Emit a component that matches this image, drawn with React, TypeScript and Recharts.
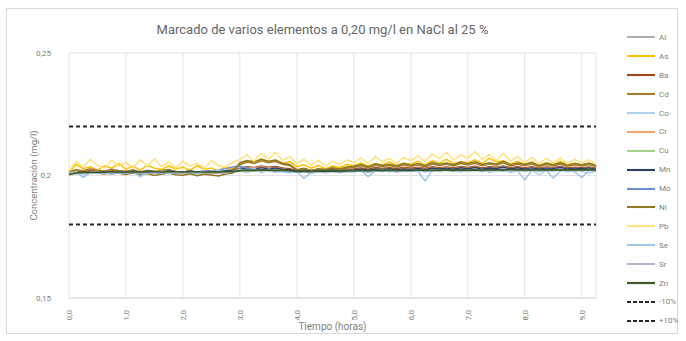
import { LineChart, Line, XAxis, YAxis, CartesianGrid, Label } from 'recharts'

// tiempo en horas
const hours = [
  0, 0.125, 0.25, 0.375, 0.5, 0.625, 0.75, 0.875,
  1, 1.125, 1.25, 1.375, 1.5, 1.625, 1.75, 1.875,
  2, 2.125, 2.25, 2.375, 2.5, 2.625, 2.75, 2.875,
  3, 3.125, 3.25, 3.375, 3.5, 3.625, 3.75, 3.875,
  4, 4.125, 4.25, 4.375, 4.5, 4.625, 4.75, 4.875,
  5, 5.125, 5.25, 5.375, 5.5, 5.625, 5.75, 5.875,
  6, 6.125, 6.25, 6.375, 6.5, 6.625, 6.75, 6.875,
  7, 7.125, 7.25, 7.375, 7.5, 7.625, 7.75, 7.875,
  8, 8.125, 8.25, 8.375, 8.5, 8.625, 8.75, 8.875,
  9, 9.125, 9.25,
]

const al = [
  .2003, .2009, .2007, .2011, .2008, .2010, .2006, .2011,
  .2009, .2012, .2007, .2011, .2010, .2008, .2012, .2010,
  .2009, .2012, .2008, .2011, .2010, .2009, .2013, .2014,
  .2019, .2023, .2020, .2025, .2021, .2024, .2019, .2017,
  .2013, .2016, .2012, .2015, .2014, .2017, .2013, .2016,
  .2016, .2019, .2015, .2020, .2017, .2021, .2016, .2020,
  .2018, .2021, .2017, .2022, .2019, .2023, .2018, .2022,
  .2019, .2023, .2018, .2022, .2020, .2024, .2019, .2022,
  .2019, .2022, .2018, .2021, .2020, .2023, .2019, .2021,
  .2019, .2022, .2018,
]
const as = [
  .2012, .2045, .2028, .2036, .2022, .2040, .2030, .2048,
  .2026, .2038, .2021, .2042, .2030, .2025, .2039, .2027,
  .2034, .2022, .2040, .2026, .2031, .2019, .2036, .2028,
  .2048, .2060, .2052, .2068, .2055, .2062, .2049, .2057,
  .2036, .2044, .2030, .2041, .2028, .2039, .2033, .2045,
  .2040, .2052, .2038, .2049, .2043, .2055, .2041, .2050,
  .2046, .2058, .2043, .2061, .2050, .2066, .2048, .2057,
  .2052, .2064, .2049, .2070, .2055, .2060, .2047, .2058,
  .2045, .2056, .2040, .2052, .2044, .2058, .2042, .2050,
  .2043, .2051, .2040,
]
const ba = [
  .2010, .2018, .2015, .2020, .2016, .2014, .2019, .2017,
  .2015, .2019, .2013, .2018, .2016, .2014, .2019, .2016,
  .2014, .2017, .2012, .2016, .2015, .2013, .2018, .2020,
  .2030, .2036, .2033, .2039, .2034, .2037, .2031, .2028,
  .2020, .2024, .2019, .2023, .2021, .2025, .2022, .2026,
  .2027, .2031, .2026, .2033, .2029, .2032, .2028, .2034,
  .2030, .2034, .2029, .2036, .2032, .2035, .2031, .2037,
  .2033, .2038, .2031, .2036, .2034, .2039, .2032, .2036,
  .2032, .2036, .2030, .2035, .2033, .2037, .2031, .2034,
  .2032, .2035, .2030,
]
const cd = [
  .2015, .2024, .2019, .2027, .2021, .2018, .2025, .2020,
  .2017, .2023, .2014, .2021, .2016, .2020, .2024, .2015,
  .2013, .2019, .2011, .2018, .2015, .2010, .2020, .2024,
  .2044, .2055, .2049, .2060, .2052, .2057, .2046, .2040,
  .2022, .2027, .2019, .2025, .2023, .2029, .2024, .2031,
  .2033, .2040, .2031, .2042, .2036, .2041, .2034, .2044,
  .2037, .2044, .2035, .2047, .2041, .2046, .2039, .2049,
  .2043, .2050, .2040, .2047, .2042, .2052, .2039, .2046,
  .2041, .2047, .2036, .2045, .2040, .2046, .2038, .2044,
  .2039, .2045, .2037,
]
const co = [
  .2008, .2013, .2006, .2015, .2010, .2012, .2004, .2011,
  .2012, .2007, .2014, .2009, .2013, .2005, .2011, .2014,
  .2010, .2014, .2008, .2013, .2011, .2015, .2009, .2012,
  .2018, .2012, .2020, .2015, .2019, .2013, .2017, .2014,
  .2012, .2016, .2008, .2015, .2013, .2017, .2010, .2016,
  .2014, .2019, .2012, .2018, .2016, .2020, .2013, .2019,
  .2017, .2021, .2014, .2020, .2018, .2022, .2016, .2021,
  .2018, .2022, .2015, .2021, .2019, .2023, .2012, .2020,
  .2016, .2021, .2003, .2019, .2017, .2022, .2015, .2020,
  .2018, .2008, .2019,
]
const cr = [
  .2005, .2013, .2010, .2015, .2012, .2009, .2014, .2011,
  .2010, .2014, .2008, .2013, .2011, .2009, .2015, .2012,
  .2009, .2013, .2007, .2012, .2010, .2008, .2014, .2017,
  .2028, .2034, .2030, .2036, .2031, .2033, .2027, .2024,
  .2017, .2021, .2015, .2020, .2018, .2022, .2017, .2023,
  .2022, .2027, .2021, .2029, .2025, .2028, .2023, .2030,
  .2026, .2031, .2025, .2033, .2028, .2032, .2027, .2034,
  .2029, .2035, .2027, .2032, .2030, .2036, .2028, .2033,
  .2028, .2033, .2026, .2032, .2029, .2034, .2027, .2031,
  .2028, .2032, .2026,
]
const cu = [
  .2002, .2008, .2011, .2010, .2012, .2011, .2010, .2012,
  .2011, .2012, .2010, .2013, .2012, .2011, .2013, .2012,
  .2011, .2013, .2012, .2011, .2013, .2012, .2014, .2013,
  .2017, .2019, .2018, .2020, .2019, .2018, .2019, .2017,
  .2015, .2016, .2014, .2016, .2015, .2016, .2015, .2017,
  .2018, .2019, .2017, .2019, .2018, .2019, .2018, .2020,
  .2019, .2020, .2019, .2021, .2020, .2019, .2020, .2021,
  .2020, .2021, .2019, .2021, .2020, .2021, .2022, .2020,
  .2021, .2020, .2022, .2021, .2020, .2022, .2021, .2022,
  .2021, .2022, .2020,
]
const mn = [
  .2008, .2014, .2012, .2016, .2013, .2015, .2012, .2016,
  .2014, .2017, .2013, .2016, .2015, .2013, .2017, .2015,
  .2014, .2018, .2013, .2017, .2016, .2014, .2018, .2020,
  .2026, .2030, .2027, .2032, .2028, .2031, .2026, .2024,
  .2018, .2021, .2017, .2020, .2019, .2022, .2018, .2021,
  .2022, .2026, .2021, .2027, .2024, .2028, .2023, .2027,
  .2025, .2029, .2024, .2031, .2027, .2030, .2026, .2032,
  .2028, .2033, .2027, .2031, .2029, .2034, .2027, .2032,
  .2027, .2031, .2026, .2030, .2028, .2033, .2027, .2030,
  .2028, .2031, .2026,
]
const mo = [
  .2006, .2012, .2009, .2014, .2011, .2013, .2010, .2015,
  .2012, .2016, .2010, .2015, .2013, .2011, .2016, .2014,
  .2013, .2017, .2012, .2019, .2015, .2022, .2028, .2035,
  .2038, .2030, .2025, .2020, .2023, .2018, .2021, .2017,
  .2014, .2018, .2012, .2017, .2015, .2019, .2013, .2018,
  .2017, .2021, .2015, .2020, .2018, .2022, .2016, .2021,
  .2019, .2023, .2017, .2022, .2020, .2024, .2018, .2023,
  .2021, .2025, .2019, .2024, .2022, .2026, .2020, .2024,
  .2022, .2026, .2020, .2025, .2023, .2027, .2021, .2024,
  .2022, .2025, .2021,
]
const ni = [
  .2008, .2016, .2012, .2018, .2010, .2006, .2014, .2009,
  .2004, .2011, .2002, .2008, .2000, .2006, .2010, .2003,
  .2001, .2007, .1999, .2005, .2002, .1998, .2006, .2010,
  .2052, .2061, .2056, .2066, .2058, .2063, .2050, .2045,
  .2024, .2030, .2021, .2028, .2025, .2032, .2027, .2035,
  .2038, .2045, .2036, .2048, .2041, .2046, .2039, .2050,
  .2042, .2049, .2040, .2053, .2046, .2051, .2044, .2055,
  .2048, .2056, .2045, .2052, .2047, .2058, .2044, .2051,
  .2046, .2053, .2041, .2050, .2045, .2052, .2043, .2049,
  .2044, .2050, .2042,
]
const pb = [
  .2018, .2058, .2035, .2066, .2041, .2030, .2062, .2038,
  .2052, .2032, .2064, .2040, .2068, .2036, .2055, .2031,
  .2058, .2038, .2050, .2029, .2060, .2040, .2035, .2054,
  .2066, .2084, .2058, .2090, .2066, .2095, .2061, .2078,
  .2048, .2066, .2042, .2062, .2039, .2058, .2044, .2064,
  .2052, .2072, .2049, .2077, .2056, .2070, .2050, .2074,
  .2060, .2080, .2058, .2088, .2069, .2094, .2063, .2084,
  .2070, .2098, .2066, .2086, .2061, .2090, .2058, .2078,
  .2055, .2074, .2049, .2070, .2052, .2072, .2048, .2066,
  .2051, .2064, .2046,
]
const se = [
  .2010, .2015, .1992, .2012, .2017, .2008, .2014, .2011,
  .2009, .2016, .1995, .2013, .2010, .2018, .2007, .2014,
  .2011, .2015, .2006, .2019, .2012, .2022, .2009, .2016,
  .2025, .2018, .2030, .2012, .2026, .2020, .2015, .2010,
  .2016, .1988, .2014, .2019, .2010, .2017, .2013, .2018,
  .2015, .2020, .1996, .2018, .2022, .2014, .2019, .2016,
  .2020, .2017, .1978, .2022, .2016, .2024, .2019, .2015,
  .2021, .2018, .2025, .2013, .2020, .2017, .2023, .2019,
  .1982, .2022, .2016, .2020, .1990, .2018, .2024, .2015,
  .1992, .2020, .2016,
]
const sr = [
  .2004, .2010, .2008, .2012, .2009, .2011, .2007, .2012,
  .2010, .2013, .2008, .2012, .2011, .2009, .2013, .2011,
  .2010, .2013, .2009, .2012, .2011, .2010, .2014, .2015,
  .2020, .2024, .2021, .2026, .2022, .2025, .2020, .2018,
  .2014, .2017, .2013, .2016, .2015, .2018, .2014, .2017,
  .2017, .2020, .2016, .2021, .2018, .2022, .2017, .2021,
  .2019, .2022, .2018, .2023, .2020, .2024, .2019, .2023,
  .2020, .2024, .2019, .2023, .2021, .2025, .2020, .2023,
  .2020, .2023, .2019, .2022, .2021, .2024, .2020, .2022,
  .2020, .2023, .2019,
]
const zn = [
  .2004, .2010, .2013, .2012, .2014, .2013, .2015, .2014,
  .2013, .2015, .2014, .2016, .2015, .2014, .2016, .2015,
  .2014, .2016, .2015, .2014, .2016, .2015, .2017, .2016,
  .2020, .2022, .2021, .2023, .2022, .2021, .2022, .2020,
  .2017, .2018, .2017, .2019, .2018, .2019, .2018, .2019,
  .2020, .2021, .2020, .2022, .2021, .2022, .2021, .2022,
  .2021, .2022, .2023, .2021, .2022, .2023, .2022, .2023,
  .2022, .2023, .2022, .2024, .2023, .2022, .2024, .2023,
  .2023, .2022, .2024, .2023, .2024, .2022, .2023, .2024,
  .2023, .2024, .2022,
]

// límites ±10 % sobre 0,20 mg/l
const limitMinus = 0.18
const limitPlus = 0.22

const xTicks = [0, 1, 2, 3, 4, 5, 6, 7, 8, 9]
const yTicks = [0.15, 0.2, 0.25]

const elements = [
  { key: 'Al', values: al, color: '#a5a5a5', width: 1.2 },
  { key: 'As', values: as, color: '#ffc000', width: 1.5 },
  { key: 'Ba', values: ba, color: '#9e4a1e', width: 1.5 },
  { key: 'Cd', values: cd, color: '#a67c2e', width: 1.5 },
  { key: 'Co', values: co, color: '#a9cdec', width: 1.2 },
  { key: 'Cr', values: cr, color: '#f2a66e', width: 1.5 },
  { key: 'Cu', values: cu, color: '#a9d18e', width: 1.5 },
  { key: 'Mn', values: mn, color: '#2e3f66', width: 1.5 },
  { key: 'Mo', values: mo, color: '#6b8fcf', width: 1.5 },
  { key: 'Ni', values: ni, color: '#8f7a25', width: 1.5 },
  { key: 'Pb', values: pb, color: '#ffe27a', width: 1.5 },
  { key: 'Se', values: se, color: '#9fc9ec', width: 1.5 },
  { key: 'Sr', values: sr, color: '#a7aec4', width: 1.2 },
  { key: 'Zn', values: zn, color: '#3f5a2a', width: 1.6 },
]

const limits = [
  { key: '-10%', value: limitMinus },
  { key: '+10%', value: limitPlus },
]

const data = hours.map((t, i) => {
  const row: Record<string, number> = { t }
  elements.forEach((e) => {
    row[e.key] = e.values[i]
  })
  limits.forEach((l) => {
    row[l.key] = l.value
  })
  return row
})

const font = 'Roboto, "Noto Sans", sans-serif'
const textGray = '#7f7f7f'

function XTick({ x, y, payload }: any) {
  return (
    <text
      x={0}
      y={0}
      transform={`translate(${x + 3},${y + 4}) rotate(-90)`}
      textAnchor="end"
      fontSize={8}
      fill={textGray}
      fontFamily={font}
    >
      {payload.value.toFixed(1).replace('.', ',')}
    </text>
  )
}

export default function App() {
  return (
    <div
      style={{
        position: 'absolute',
        left: 0,
        top: 0,
        width: 686,
        height: 341,
        background: '#fff',
        fontFamily: font,
      }}
    >
      <div
        style={{
          position: 'absolute',
          left: 6,
          top: 8,
          width: 672,
          height: 326,
          border: '1px solid #d9d9d9',
          boxSizing: 'border-box',
        }}
      />
      <div
        style={{
          position: 'absolute',
          left: 0,
          width: 645,
          top: 22,
          textAlign: 'center',
          fontSize: 13,
          color: '#666',
        }}
      >
        Marcado de varios elementos a 0,20 mg/l en NaCl al 25 %
      </div>
      <div style={{ position: 'absolute', left: 0, top: 0 }}>
        <LineChart width={686} height={341} data={data} margin={{ top: 53, right: 90, bottom: 0, left: 0 }}>
          <CartesianGrid stroke="#e3e3e3" vertical={true} horizontal={true} />
          <XAxis
            dataKey="t"
            type="number"
            domain={[0, 9.25]}
            ticks={xTicks}
            tick={<XTick />}
            height={43}
            axisLine={{ stroke: '#d9d9d9' }}
            tickLine={false}
            interval={0}
          >
            <Label value="Tiempo (horas)" position="insideBottom" offset={11} fontSize={10} fill={textGray} fontFamily={font} />
          </XAxis>
          <YAxis
            type="number"
            domain={[0.15, 0.25]}
            ticks={yTicks}
            width={69}
            axisLine={false}
            tickLine={false}
            tickMargin={12}
            tick={{ fontSize: 8, fill: textGray, fontFamily: font }}
            tickFormatter={(v: number) => String(v).replace('.', ',')}
          >
            <Label
              value="Concentración (mg/l)"
              angle={-90}
              position="insideLeft"
              offset={34}
              style={{ textAnchor: 'middle' }}
              fontSize={9.5}
              fill={textGray}
              fontFamily={font}
            />
          </YAxis>
          {elements.map((e) => (
            <Line
              key={e.key}
              dataKey={e.key}
              stroke={e.color}
              strokeWidth={e.width}
              dot={false}
              type="linear"
              isAnimationActive={false}
            />
          ))}
          {limits.map((l) => (
            <Line
              key={l.key}
              dataKey={l.key}
              stroke="#262626"
              strokeWidth={2.2}
              strokeDasharray="4 3"
              dot={false}
              type="linear"
              isAnimationActive={false}
            />
          ))}
        </LineChart>
      </div>
      <div style={{ position: 'absolute', left: 626, top: 28 }}>
        {elements.map((e) => (
          <div key={e.key} style={{ height: 18.9, display: 'flex', alignItems: 'center' }}>
            <svg width={30} height={6}>
              <line x1={1} y1={3} x2={29} y2={3} stroke={e.color} strokeWidth={e.width + 0.6} />
            </svg>
            <span style={{ fontSize: 8, color: textGray, marginLeft: 3 }}>{e.key}</span>
          </div>
        ))}
        {limits.map((l) => (
          <div key={l.key} style={{ height: 18.9, display: 'flex', alignItems: 'center' }}>
            <svg width={30} height={6}>
              <line x1={1} y1={3} x2={29} y2={3} stroke="#262626" strokeWidth={2.2} strokeDasharray="4 2" />
            </svg>
            <span style={{ fontSize: 8, color: textGray, marginLeft: 3 }}>{l.key}</span>
          </div>
        ))}
      </div>
    </div>
  )
}
